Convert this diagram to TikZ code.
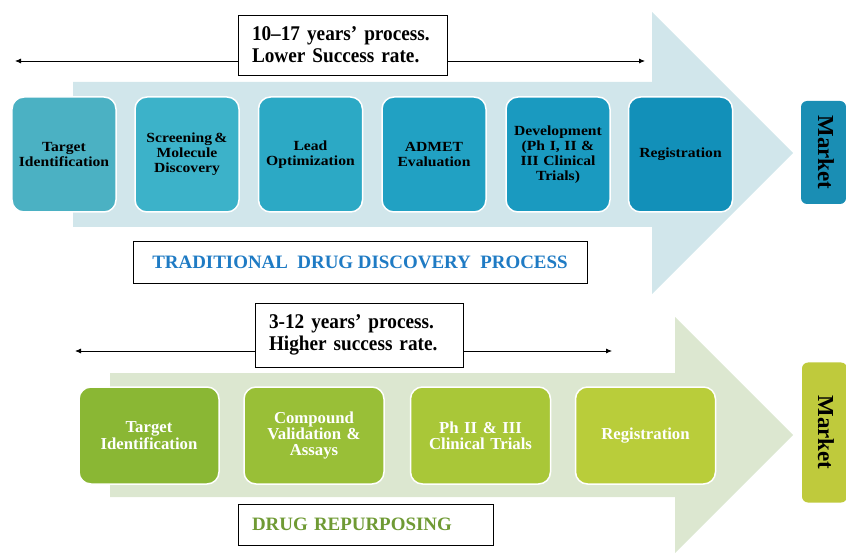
\documentclass[tikz,border=0pt]{standalone}
\usepackage{fontspec}
\setmainfont{Liberation Serif}
\newfontfamily\condA[FakeStretch=1.12, WordSpace=0.7]{Liberation Serif}
\newfontfamily\condB[FakeStretch=0.92]{Liberation Serif}
\usetikzlibrary{arrows.meta}
\definecolor{bluelight}{HTML}{D1E6EB}
\definecolor{greenlight}{HTML}{DCE7D0}
\definecolor{tb1}{HTML}{4BB1C3}
\definecolor{tb2}{HTML}{3CB2C9}
\definecolor{tb3}{HTML}{2CA9C5}
\definecolor{tb4}{HTML}{21A1C3}
\definecolor{tb5}{HTML}{1A9AC0}
\definecolor{tb6}{HTML}{1290B9}
\definecolor{tbm}{HTML}{1A8EB4}
\definecolor{gb1}{HTML}{8AB734}
\definecolor{gb2}{HTML}{99BF37}
\definecolor{gb3}{HTML}{A9C738}
\definecolor{gb4}{HTML}{B9CD3A}
\definecolor{gbm}{HTML}{BFCA3C}
\definecolor{titleblue}{HTML}{1F7BC4}
\definecolor{titlegreen}{HTML}{6F9A34}
\begin{document}
\begin{tikzpicture}[x=1bp,y=-1bp,
  topbox/.style={rounded corners=12bp, draw=white, line width=1.5bp,
    minimum width=104bp, minimum height=115bp, align=center, inner sep=1bp,
    text width=100bp, font=\condA\bfseries\fontsize{14}{15}\selectfont, text=black},
  botbox/.style={rounded corners=12bp, draw=white, line width=1.5bp,
    minimum width=140bp, minimum height=97bp, align=center, inner sep=1bp,
    text width=134bp, font=\bfseries\fontsize{16.8}{16.5}\selectfont, text=white},
  marketbox/.style={rounded corners=6bp, minimum width=45bp, inner sep=0pt},
  markettext/.style={rotate=-90, inner sep=0pt, font=\bfseries\fontsize{23}{25}\selectfont, text=black},
  notebox/.style={draw=black, line width=0.8bp, fill=white, align=left,
    inner ysep=0pt, inner xsep=14bp, font=\condB\bfseries\fontsize{21}{22}\selectfont},
  titlebox/.style={draw=black, line width=0.8bp, fill=white, inner ysep=0pt},
  span/.style={{Latex[length=6bp,width=5bp]}-{Latex[length=6bp,width=5bp]}, line width=0.8bp}
]
\useasboundingbox (0,0) rectangle (846,553);
% big arrows
\fill[bluelight] (73,82) -- (652,82) -- (652,12) -- (793,153) -- (652,294) -- (652,227) -- (73,227) -- cycle;
\fill[greenlight] (110,373) -- (675,373) -- (675,317) -- (793,435) -- (675,553) -- (675,497) -- (110,497) -- cycle;

% top span arrow and note
\coordinate (tl) at (15,61);
\coordinate (tr) at (645,61);
\draw[span] (tl) -- (tr);
\node[notebox, text width=181bp, minimum height=60bp] (tnote) at (342.5,45) {10–17 years’ process.\\Lower Success rate.};

% top boxes
\node[topbox, fill=tb1] (t1) at (64,154.5) {Target\\Identification};
\node[topbox, fill=tb2] (t2) at (187,154.5) {Screening\,\&\\Molecule\\Discovery};
\node[topbox, fill=tb3] (t3) at (310.5,154.5) {Lead\\Optimization};
\node[topbox, fill=tb4] (t4) at (434,154.5) {ADMET\\Evaluation};
\node[topbox, fill=tb5] (t5) at (558,154.5) {Development\\(Ph I, II \&\\III Clinical\\Trials)};
\node[topbox, fill=tb6] (t6) at (680.5,154.5) {Registration};
\node[marketbox, fill=tbm, minimum height=103bp] (tm) at (823.5,152.5) {};
\node[markettext] (tmt) at (826,152.5) {Market};

% traditional title
\node[titlebox, minimum width=454bp, minimum height=42bp, text=titleblue,
  font=\bfseries\fontsize{19}{21}\selectfont] (ttitle) at (360,262) {TRADITIONAL\ \ DRUG DISCOVERY\ \ PROCESS\hspace{10bp}};

% bottom span arrow and note
\coordinate (bl) at (75,351);
\coordinate (br) at (612,351);
\draw[span] (bl) -- (br);
\node[notebox, text width=180bp, minimum height=64bp] (bnote) at (359,335) {3-12 years’ process.\\Higher success rate.};

% bottom boxes
\node[botbox, fill=gb1] (g1) at (149,435.5) {Target\\Identification};
\node[botbox, fill=gb2] (g2) at (314,435.5) {Compound\\Validation \&\\Assays};
\node[botbox, fill=gb3] (g3) at (480.5,435.5) {Ph II \& III\\Clinical Trials};
\node[botbox, fill=gb4] (g4) at (645.5,435.5) {Registration};
\node[marketbox, fill=gbm, minimum height=140bp] (gm) at (824.5,432.5) {};
\node[markettext] (gmt) at (826,432.5) {Market};

% repurposing title
\node[titlebox, minimum width=255bp, minimum height=41bp, text width=227bp,
  inner xsep=14bp, align=left, text=titlegreen,
  font=\bfseries\fontsize{19}{21}\selectfont] (gtitle) at (365.5,524.5) {DRUG REPURPOSING};
\end{tikzpicture}
\end{document}
